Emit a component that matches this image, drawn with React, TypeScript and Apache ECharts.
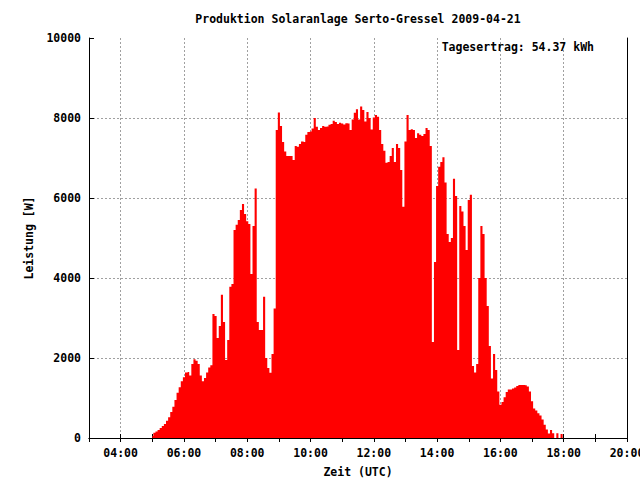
import React, { useEffect, useRef } from 'react';
import * as echarts from 'echarts';

// Sampling of the production series: minutes after midnight (UTC)
const START_MIN = 300; // 05:00
const STEP_MIN = 4;

// Power output in W, one value per 4-minute step from 05:00
const power: number[] = [
  50, 130, 160, 200, 250, 300, 350, 430, 520, 650,
  780, 950, 1130, 1270, 1420, 1520, 1640, 1650, 1560, 1850,
  1970, 1930, 1850, 1560, 1420, 1500, 1640, 1760, 1820, 3100,
  3050, 2500, 2800, 3580, 2900, 1950, 2450, 3780, 3850, 5200,
  5330, 5450, 5700, 5850, 5600, 5420, 5350, 4100, 5300, 6240,
  2900, 2700, 2700, 3530, 2000, 1750, 1630, 2100, 3240, 7700,
  8140, 7800, 7400, 7160, 7050, 7050, 7050, 6950, 7300, 7280,
  7350, 7410, 7400, 7580, 7650, 7660, 7740, 8000, 7780, 7700,
  7750, 7800, 7780, 7790, 7830, 7850, 7930, 7900, 7850, 7880,
  7860, 7840, 7870, 7860, 7700, 7960, 8130, 8220, 7965, 8285,
  8200, 7910, 8150, 8000, 7715, 8015, 8075, 8030, 7700, 7350,
  7180, 6880, 6900, 7050, 7250, 6900, 7350, 7250, 6700, 5780,
  7410, 8075, 7700, 7720, 7700, 7500, 7620, 7580, 7550, 7600,
  7750, 7700, 7300, 2400, 4400, 6300, 6780, 6900, 7020, 6390,
  5100, 4900, 5000, 6480, 6050, 2200, 5800, 5660, 5300, 4700,
  5950, 6080, 1800, 1640, 1850, 4000, 5300, 5100, 4000, 3300,
  2300, 1490, 2100, 1700, 1160, 830, 900, 1020, 1150, 1215,
  1215, 1240, 1265, 1300, 1325, 1325, 1325, 1320, 1285, 1160,
  920, 740, 690, 620, 560, 460, 330, 210, 115, 200,
  120, 0, 120, 0, 100, 0,
];

// Axis definitions
const X_MIN = 180; // 03:00
const X_MAX = 1200; // 20:00
const hourLabels: Record<number, string> = {
  240: '04:00', 360: '06:00', 480: '08:00', 600: '10:00', 720: '12:00',
  840: '14:00', 960: '16:00', 1080: '18:00', 1200: '20:00',
};
const Y_MAX = 10000;
const Y_STEP = 2000;

const TITLE = 'Produktion Solaranlage Serto-Gressel 2009-04-21';
const DAILY = 'Tagesertrag: 54.37 kWh';

const FONT = '"DejaVu Sans Mono", "Liberation Mono", monospace';
const FS = 11.5;

export default function App() {
  const ref = useRef<HTMLDivElement>(null);

  useEffect(() => {
    document.body.style.margin = '0';
    if (!ref.current) return;
    const chart = echarts.init(ref.current, undefined, { renderer: 'svg' });
    const data = power.map((v, i) => [START_MIN + i * STEP_MIN, v]);
    const textStyle = { fontFamily: FONT, fontSize: FS, fontWeight: 'bold' as const, color: '#000' };

    chart.setOption({
      animation: false,
      backgroundColor: '#fff',
      grid: { left: 89, right: 13, top: 38, bottom: 42, containLabel: false, outerBoundsMode: 'none' },
      xAxis: [
        {
          type: 'value',
          min: X_MIN,
          max: X_MAX,
          interval: 60,
          name: 'Zeit (UTC)',
          nameLocation: 'middle',
          nameGap: 28,
          nameTextStyle: textStyle,
          axisLine: { show: true, lineStyle: { color: '#000', width: 1 } },
          axisTick: { show: true, inside: true, length: 4, lineStyle: { color: '#000' } },
          axisLabel: {
            ...textStyle,
            margin: 9,
            formatter: (v: number) => hourLabels[v] ?? '',
          },
          splitLine: {
            show: true,
            lineStyle: { color: ['rgba(0,0,0,0)', '#a0a0a0'], type: [2, 2], width: 1 },
          },
        },
        {
          type: 'value',
          position: 'top',
          min: X_MIN,
          max: X_MAX,
          interval: 60,
          axisLine: { show: true, lineStyle: { color: '#000', width: 1 } },
          axisTick: { show: true, inside: true, length: 4, lineStyle: { color: '#000' } },
          axisLabel: { show: false },
          splitLine: { show: false },
        },
      ],
      yAxis: [
        {
          type: 'value',
          min: 0,
          max: Y_MAX,
          interval: Y_STEP,
          name: 'Leistung [W]',
          nameLocation: 'middle',
          nameRotate: 90,
          nameGap: 50,
          nameTextStyle: textStyle,
          axisLine: { show: true, lineStyle: { color: '#000', width: 1 } },
          axisTick: { show: true, inside: true, length: 5, lineStyle: { color: '#000' } },
          axisLabel: { ...textStyle, margin: 8, formatter: (v: number) => String(v) },
          splitLine: {
            show: true,
            showMinLine: false,
            showMaxLine: false,
            lineStyle: { color: '#a0a0a0', type: [2, 2], width: 1 },
          },
        },
        {
          type: 'value',
          position: 'right',
          min: 0,
          max: Y_MAX,
          interval: Y_STEP,
          axisLine: { show: true, lineStyle: { color: '#000', width: 1 } },
          axisTick: { show: false },
          axisLabel: { show: false },
          splitLine: { show: false },
        },
      ],
      series: [
        {
          type: 'line',
          xAxisIndex: 0,
          yAxisIndex: 0,
          data,
          step: 'middle',
          symbol: 'none',
          lineStyle: { width: 0, color: '#ff0000' },
          areaStyle: { color: '#ff0000', opacity: 1 },
          z: 1,
        },
      ],
      graphic: [
        {
          type: 'text',
          x: 358,
          y: 19,
          style: { text: TITLE, font: `bold ${FS}px ${FONT}`, fill: '#000', align: 'center', verticalAlign: 'middle' },
        },
        {
          type: 'text',
          x: 594,
          y: 47,
          z: 100,
          style: { text: DAILY, font: `bold ${FS}px ${FONT}`, fill: '#000', align: 'right', verticalAlign: 'middle' },
        },
      ],
    });

    return () => chart.dispose();
  }, []);

  return <div ref={ref} style={{ width: 640, height: 480 }} />;
}
